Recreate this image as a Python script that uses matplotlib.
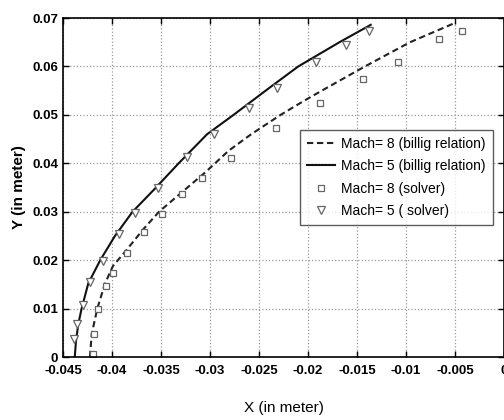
import matplotlib
matplotlib.use('Agg')
import matplotlib.pyplot as plt

plt.rcParams['font.family'] = ['Liberation Sans', 'DejaVu Sans']

# billig relation curves
m8_curve_x = [-0.04225, -0.04207, -0.0415, -0.04071, -0.0399, -0.0386, -0.0368, -0.0352,
              -0.0330, -0.0305, -0.0281, -0.0258, -0.0228, -0.0205, -0.0186, -0.0142,
              -0.0096, -0.005]
m8_curve_y = [0.0, 0.00475, 0.010, 0.0152, 0.0188, 0.0219, 0.0264, 0.030,
              0.0338, 0.0381, 0.0426, 0.046, 0.050, 0.0528, 0.055, 0.060,
              0.065, 0.069]

m5_curve_x = [-0.0438, -0.04367, -0.04344, -0.0431, -0.04242, -0.0412, -0.0397, -0.0379,
              -0.0357, -0.0332, -0.0303, -0.0276, -0.0240, -0.0210, -0.0168, -0.0136]
m5_curve_y = [0.0, 0.0034, 0.0068, 0.010, 0.0152, 0.020, 0.025, 0.030,
              0.0346, 0.040, 0.046, 0.050, 0.0555, 0.060, 0.065, 0.0686]

# solver points
m8_pts_x = [-0.04197, -0.04184, -0.0414, -0.04061, -0.03987, -0.0385, -0.0367, -0.03493,
            -0.03289, -0.03078, -0.02786, -0.0233, -0.01878, -0.01436, -0.01079, -0.0066, -0.00426]
m8_pts_y = [0.0006, 0.0047, 0.0100, 0.0146, 0.0173, 0.0214, 0.0259, 0.0296,
            0.0337, 0.0369, 0.0410, 0.0473, 0.0524, 0.0574, 0.0610, 0.0656, 0.0674]

m5_pts_x = [-0.04388, -0.04354, -0.04299, -0.04224, -0.04095, -0.03929, -0.03765,
            -0.03534, -0.03238, -0.02956, -0.02599, -0.02313, -0.01918, -0.01615, -0.01374]
m5_pts_y = [0.00363, 0.0069, 0.0107, 0.0155, 0.0198, 0.0253, 0.0298,
            0.0348, 0.0413, 0.0461, 0.0515, 0.0556, 0.0610, 0.0645, 0.0673]

x_ticks = [-0.045, -0.04, -0.035, -0.03, -0.025, -0.02, -0.015, -0.01, -0.005, 0]
x_labels = ['-0.045', '-0.04', '-0.035', '-0.03', '-0.025', '-0.02', '-0.015', '-0.01', '-0.005', '0']
y_ticks = [0, 0.01, 0.02, 0.03, 0.04, 0.05, 0.06, 0.07]
y_labels = ['0', '0.01', '0.02', '0.03', '0.04', '0.05', '0.06', '0.07']

fig = plt.figure(figsize=(5.04, 4.2), dpi=100)
ax = fig.add_axes([0.125, 0.15, 0.875, 0.807])

ax.plot(m8_curve_x, m8_curve_y, '--', color='#222222', linewidth=1.5, dashes=(3, 1.8),
        label='Mach= 8 (billig relation)')
ax.plot(m5_curve_x, m5_curve_y, '-', color='#111111', linewidth=1.5,
        label='Mach= 5 (billig relation)')
ax.plot(m8_pts_x, m8_pts_y, 's', linestyle='none', markersize=4,
        markerfacecolor='white', markeredgecolor='#666666', markeredgewidth=0.9,
        label='Mach= 8 (solver)')
ax.plot(m5_pts_x, m5_pts_y, 'v', linestyle='none', markersize=5.5,
        markerfacecolor='white', markeredgecolor='#666666', markeredgewidth=0.9,
        label='Mach= 5 ( solver)')

ax.set_xlim(-0.045, 0)
ax.set_ylim(0, 0.07)
ax.set_xticks(x_ticks)
ax.set_xticklabels(x_labels, fontweight='bold')
ax.set_yticks(y_ticks)
ax.set_yticklabels(y_labels, fontweight='bold')
ax.tick_params(direction='in', top=True, right=True, labelsize=9.5, length=4, width=1)
ax.tick_params(axis='x', pad=6)

ax.grid(True, linestyle=':', color='#999999', linewidth=0.9)
for s in ax.spines.values():
    s.set_linewidth(1.2)

ax.set_xlabel('X (in meter)', fontsize=11)
ax.set_ylabel('Y (in meter)', fontsize=11, fontweight='bold')
ax.xaxis.set_label_coords(0.5, -0.13)
ax.yaxis.set_label_coords(-0.085, 0.5)

leg = ax.legend(loc='upper left', bbox_to_anchor=(0.537, 0.67), borderaxespad=0,
                fontsize=10, frameon=True, fancybox=False, edgecolor='#333333',
                handlelength=2.0, borderpad=0.5, labelspacing=0.6, handletextpad=0.5)
leg.get_frame().set_linewidth(1.0)

fig.savefig('out.png', dpi=100)
